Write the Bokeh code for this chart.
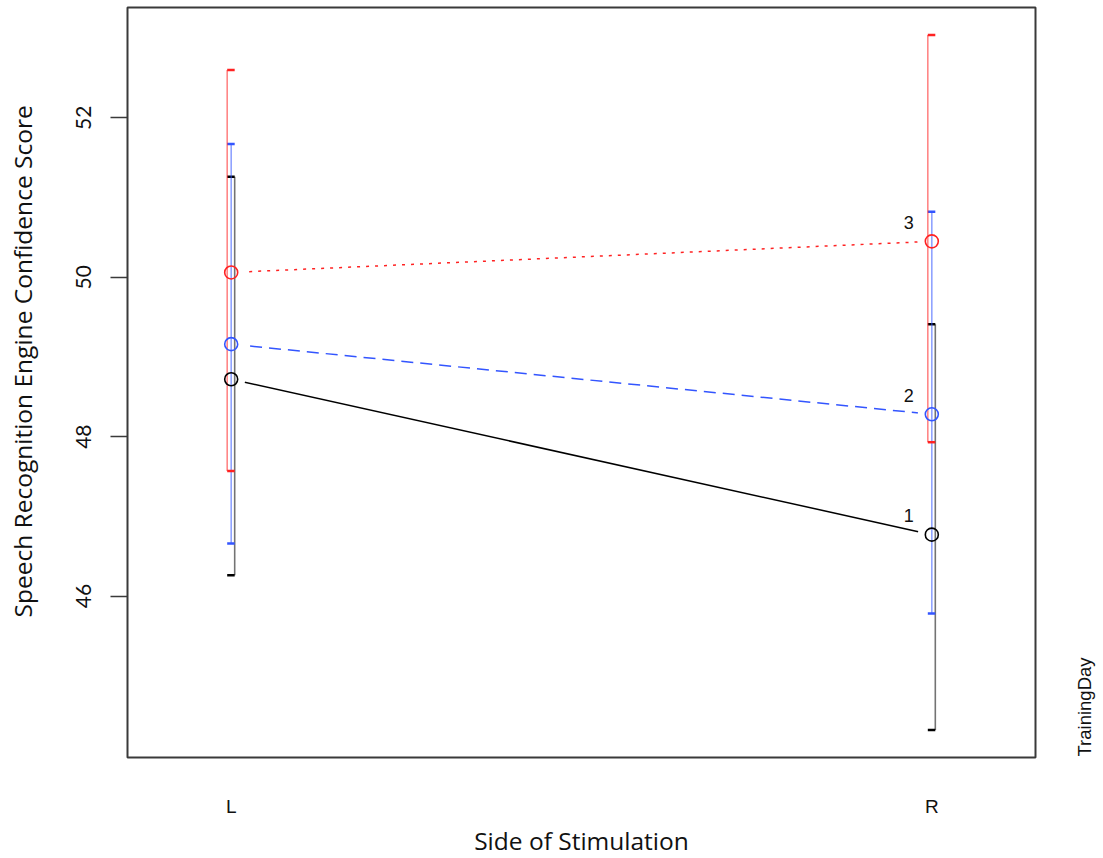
import math
from bokeh.plotting import figure
from bokeh.models import Range1d, FixedTicker, LinearAxis, Title
from bokeh.core.properties import value
from bokeh.embed import file_html
from bokeh.resources import INLINE

# ---- data ----
sides = ["L", "R"]
side_pos = [1, 2]
days = ["1", "2", "3"]
mean_d1 = [48.72, 46.77]
mean_d2 = [49.16, 48.28]
mean_d3 = [50.06, 50.45]
upper_d1 = [51.26, 49.41]
lower_d1 = [46.26, 44.32]
upper_d2 = [51.67, 50.82]
lower_d2 = [46.66, 45.78]
upper_d3 = [52.60, 53.04]
lower_d3 = [47.57, 47.93]
y_ticks = [46, 48, 50, 52]

# ---- layout ----
X0, X1 = 0.852, 2.148
Y0, Y1 = 43.974, 53.384
FW, FH = 908, 750
px_x = (X1 - X0) / FW
TITLE_FONT = "Open Sans"
SMALL_FONT = "Liberation Sans"

p = figure(x_range=Range1d(X0, X1), y_range=Range1d(Y0, Y1),
           frame_width=FW, frame_height=FH,
           min_border_left=127, min_border_right=68, min_border_top=7, min_border_bottom=92,
           output_backend="svg", toolbar_location=None, background_fill_color="white",
           border_fill_color="white")
p.grid.visible = False
p.outline_line_color = "#3a3a3a"
p.outline_line_width = 2

# y axis
p.yaxis.ticker = FixedTicker(ticks=y_ticks)
p.yaxis.axis_line_color = None
p.yaxis.major_tick_out = 17
p.yaxis.major_tick_in = 0
p.yaxis.major_tick_line_color = "#3a3a3a"
p.yaxis.major_tick_line_width = 1.5
p.yaxis.minor_tick_line_color = None
p.yaxis.major_label_orientation = "vertical"
p.yaxis.major_label_standoff = 19
p.yaxis.major_label_text_font = "Lato"
p.yaxis.major_label_text_font_size = "21px"
p.yaxis.major_label_text_color = "#111111"

# x axis
p.xaxis.ticker = FixedTicker(ticks=side_pos)
p.xaxis.major_label_overrides = {pos: s for pos, s in zip(side_pos, sides)}
p.xaxis.axis_line_color = None
p.xaxis.major_tick_line_color = None
p.xaxis.minor_tick_line_color = None
p.xaxis.major_label_standoff = 32
p.xaxis.major_label_text_font = SMALL_FONT
p.xaxis.major_label_text_font_size = "19px"
p.xaxis.major_label_text_color = "#111111"
p.xaxis.axis_label = "Side of Stimulation"
p.xaxis.axis_label_text_font = TITLE_FONT
p.xaxis.axis_label_text_font_size = "24.5px"
p.xaxis.axis_label_text_font_style = "normal"
p.xaxis.axis_label_text_color = "#111111"
p.xaxis.axis_label_standoff = 4

# invisible spacer between y tick labels and y title (white tick in the margin)
spacer_tick = Y0 + 0.2
spacer = LinearAxis(ticker=FixedTicker(ticks=[spacer_tick]), axis_line_color=None,
                    major_tick_line_color="white", minor_tick_line_color=None,
                    major_tick_out=35, major_tick_in=0,
                    major_label_text_font_size="0px", major_label_text_color=None,
                    major_label_standoff=0)
p.add_layout(spacer, "left")

# y title
p.add_layout(Title(text="Speech Recognition Engine Confidence Score", align="left", offset=140,
                   text_font=TITLE_FONT, text_font_size="24.5px", text_font_style="normal",
                   text_color="#111111", standoff=0), "left")

# legend title on the right, as a single-tick axis in pixel units
p.extra_y_ranges = {"px": Range1d(0, FH)}
legend_pos = 1
right_ax = LinearAxis(y_range_name="px", ticker=FixedTicker(ticks=[legend_pos]),
                      major_label_overrides={legend_pos: "TrainingDay"})
right_ax.axis_line_color = None
right_ax.major_tick_line_color = None
right_ax.minor_tick_line_color = None
right_ax.major_label_orientation = math.pi / 2
right_ax.major_label_standoff = 43
right_ax.major_label_text_font = SMALL_FONT
right_ax.major_label_text_font_size = "18.5px"
right_ax.major_label_text_color = "#111111"
p.add_layout(right_ax, "right")

series = [
    ("1", mean_d1, lower_d1, upper_d1, "#000000", "solid", 3.5),
    ("2", mean_d2, lower_d2, upper_d2, "#3355FF", "12 7", 0.0),
    ("3", mean_d3, lower_d3, upper_d3, "#FF2222", "3 6", -4.0),
]

# lines
for name, m, lo, hi, col, dash, off in series:
    p.line(side_pos, m, line_color=col, line_width=1.5, line_dash=dash)
# white gaps around points (type="b")
for name, m, lo, hi, col, dash, off in series:
    p.scatter(side_pos, m, size=28, fill_color="white", line_color=None)
# error bars
for name, m, lo, hi, col, dash, off in series:
    xs = [x + off * px_x for x in side_pos]
    p.segment(x0=xs, y0=lo, x1=xs, y1=hi, line_color=col, line_alpha=0.55, line_width=1.6)
    cx0 = [x - 4 * px_x for x in side_pos]
    cx1 = [x + 3.5 * px_x for x in side_pos]
    p.segment(x0=cx0, y0=lo, x1=cx1, y1=lo, line_color=col, line_width=2.5)
    p.segment(x0=cx0, y0=hi, x1=cx1, y1=hi, line_color=col, line_width=2.5)
# points
for name, m, lo, hi, col, dash, off in series:
    p.scatter(side_pos, m, size=13, fill_color=None, line_color=col, line_width=1.6)
# series labels at right end
for name, m, lo, hi, col, dash, off in series:
    p.text(x=[side_pos[-1]], y=[m[-1]], text=[name], x_offset=-23, y_offset=-19,
           text_align="center", text_baseline="middle",
           text_font=value(SMALL_FONT), text_font_size="18px", text_color="#111111")

open("out.html", "w").write(file_html(p, INLINE))
